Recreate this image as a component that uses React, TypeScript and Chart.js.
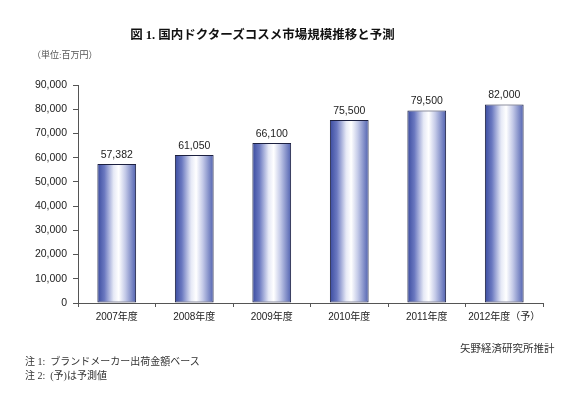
import React, { useEffect, useRef } from "react";
import { Chart, registerables } from "chart.js";

Chart.register(...registerables);

const categories = ["2007年度", "2008年度", "2009年度", "2010年度", "2011年度", "2012年度（予）"];
const marketValues = [57382, 61050, 66100, 75500, 79500, 82000];
const yTicks = [0, 10000, 20000, 30000, 40000, 50000, 60000, 70000, 80000, 90000];

const titleText = "図 1. 国内ドクターズコスメ市場規模推移と予測";
const unitText = "（単位:百万円）";
const sourceText = "矢野経済研究所推計";
const notes = ["注 1:  ブランドメーカー出荷金額ベース", "注 2:  (予)は予測値"];

const BAR_PCT = 0.5;
const fmt = (v: number) => v.toLocaleString("en-US");

const barFill = (c: any) => {
  const chart = c.chart;
  const xs = chart.scales && chart.scales.x;
  if (!xs || c.type !== "data" || !isFinite(xs.width) || xs.width <= 0) return "#5061b0";
  const cx = xs.getPixelForValue(c.dataIndex);
  const w = (xs.width / categories.length) * BAR_PCT;
  const g = chart.ctx.createLinearGradient(cx - w / 2, 0, cx + w / 2, 0);
  g.addColorStop(0, "#3a4b9f");
  g.addColorStop(0.18, "#6a78c0");
  g.addColorStop(0.42, "#e6e9f6");
  g.addColorStop(0.55, "#ffffff");
  g.addColorStop(0.72, "#c4cae8");
  g.addColorStop(1, "#5061b0");
  return g;
};

const valueLabelPlugin = {
  id: "valueLabels",
  afterDatasetsDraw(chart: any) {
    const ctx = chart.ctx;
    const meta = chart.getDatasetMeta(0);
    ctx.save();
    ctx.font = "10.5px 'Liberation Sans', Arial, sans-serif";
    ctx.fillStyle = "#222";
    ctx.textAlign = "center";
    ctx.textBaseline = "bottom";
    meta.data.forEach((el: any, i: number) => {
      ctx.fillText(fmt(marketValues[i]), el.x, el.y - 4);
    });
    ctx.restore();
  },
};

export default function App() {
  const ref = useRef<HTMLCanvasElement>(null);
  useEffect(() => {
    if (!ref.current) return;
    const chart = new Chart(ref.current, {
      type: "bar",
      data: {
        labels: categories,
        datasets: [
          {
            data: marketValues,
            backgroundColor: barFill,
            borderColor: "#1c2040",
            borderWidth: 1,
            borderSkipped: false,
            categoryPercentage: 1,
            barPercentage: BAR_PCT,
          },
        ],
      },
      options: {
        animation: false,
        responsive: false,
        maintainAspectRatio: false,
        layout: { padding: { left: 0, top: 85, right: 45, bottom: 0 } },
        plugins: { legend: { display: false }, title: { display: false }, tooltip: { enabled: false } },
        scales: {
          x: {
            afterFit: (s: any) => {
              s.height = 96;
            },
            grid: { display: true, drawOnChartArea: false, tickLength: 4, color: "#555", offset: true },
            border: { display: true, color: "#555", width: 1 },
            ticks: {
              color: "#222",
              font: { size: 10, family: "'Liberation Sans', 'Noto Sans CJK JP', sans-serif" },
              padding: 4,
              maxRotation: 0,
              autoSkip: false,
            },
          },
          y: {
            min: 0,
            max: 90000,
            afterFit: (s: any) => {
              s.width = 78;
            },
            afterBuildTicks: (s: any) => {
              s.ticks = yTicks.map((v) => ({ value: v }));
            },
            grid: { display: true, drawOnChartArea: false, tickLength: 5, color: "#555" },
            border: { display: true, color: "#555", width: 1 },
            ticks: {
              color: "#222",
              font: { size: 10.5, family: "'Liberation Sans', Arial, sans-serif" },
              padding: 6,
              callback: (v: any) => fmt(Number(v)),
            },
          },
        },
      },
      plugins: [valueLabelPlugin],
    });
    return () => chart.destroy();
  }, []);

  const serifJP = "'Liberation Serif', 'Noto Sans CJK JP', serif";
  return (
    <div style={{ position: "fixed", left: 0, top: 0, width: 588, height: 399, background: "#fff", overflow: "hidden" }}>
      <canvas ref={ref} width={588} height={399} style={{ position: "absolute", left: 0, top: 0, width: 588, height: 399 }} />
      <div
        style={{
          position: "absolute",
          left: 0,
          width: 525,
          top: 26,
          textAlign: "center",
          fontFamily: serifJP,
          fontWeight: "bold",
          fontSize: 12.5,
          color: "#111",
          whiteSpace: "nowrap",
          lineHeight: "18px",
        }}
      >
        {titleText}
      </div>
      <div style={{ position: "absolute", left: 32, top: 48, fontFamily: serifJP, fontSize: 9, color: "#555", lineHeight: "14px", whiteSpace: "nowrap" }}>
        {unitText}
      </div>
      <div style={{ position: "absolute", left: 460, top: 341, fontFamily: serifJP, fontSize: 10.5, color: "#333", lineHeight: "16px", whiteSpace: "nowrap" }}>
        {sourceText}
      </div>
      {notes.map((n, i) => (
        <div
          key={i}
          style={{ position: "absolute", left: 25, top: 355 + i * 14, fontFamily: serifJP, fontSize: 10, color: "#333", lineHeight: "14px", whiteSpace: "pre" }}
        >
          {n}
        </div>
      ))}
    </div>
  );
}
